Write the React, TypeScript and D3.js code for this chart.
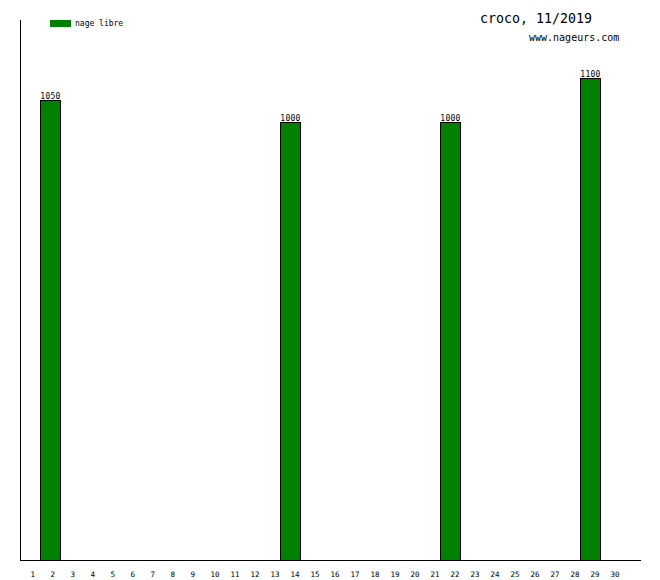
import React from "react";
import * as d3 from "d3";

const days: number[] = d3.range(1, 31);
const swimDays: number[] = [2, 14, 22, 29];
const swimValues: number[] = [1050, 1000, 1000, 1100];
const seriesName = "nage libre";
const title = "croco, 11/2019";
const subtitle = "www.nageurs.com";

const W = 660;
const H = 580;

export default function App() {
  const x = d3.scaleBand<number>().domain(days).range([20, 620]).padding(0);
  const y = d3.scaleLinear().domain([0, 1233]).range([560, 20]);
  const green = "#008000";
  const mono = "'DejaVu Sans Mono', 'Liberation Mono', monospace";
  return (
    <svg
      width={W}
      height={H}
      style={{ position: "absolute", left: 0, top: 0, background: "#fff" }}
      fontFamily={mono}
    >
      <rect x={0} y={0} width={W} height={H} fill="#fff" />
      {/* axes */}
      <line x1={20.5} y1={20} x2={20.5} y2={560} stroke="#000" strokeWidth={1} />
      <line x1={20} y1={560.5} x2={641} y2={560.5} stroke="#000" strokeWidth={1} />
      {/* bars */}
      {swimDays.map((d, i) => {
        const x0 = x(d) as number;
        const yt = Math.round(y(swimValues[i]));
        return (
          <g key={d}>
            <rect
              x={x0 + 0.5}
              y={yt + 0.5}
              width={x.bandwidth()}
              height={560 - yt}
              fill={green}
              stroke="#000"
              strokeWidth={1}
              shapeRendering="crispEdges"
            />
            <text
              x={x0 + x.bandwidth() / 2 + 0.5}
              y={yt - 1}
              textAnchor="middle"
              fontSize={8}
              letterSpacing={0.3}
              fill="#000"
            >
              {swimValues[i]}
            </text>
          </g>
        );
      })}
      {/* x tick labels */}
      {days.map((d) => (
        <text
          key={d}
          x={(x(d) as number) + x.bandwidth() / 2 + 0.5}
          y={577}
          textAnchor="start"
          fontSize={7.5}
          fill="#000"
        >
          {d}
        </text>
      ))}
      {/* legend */}
      <rect x={50} y={20} width={21} height={7} fill={green} />
      <text x={75} y={26} fontSize={8} fill="#000">
        {seriesName}
      </text>
      {/* title */}
      <text x={480} y={23} fontSize={13.3} fill="#000">
        {title}
      </text>
      <text x={529} y={41} fontSize={10} fill="#000">
        {subtitle}
      </text>
    </svg>
  );
}
